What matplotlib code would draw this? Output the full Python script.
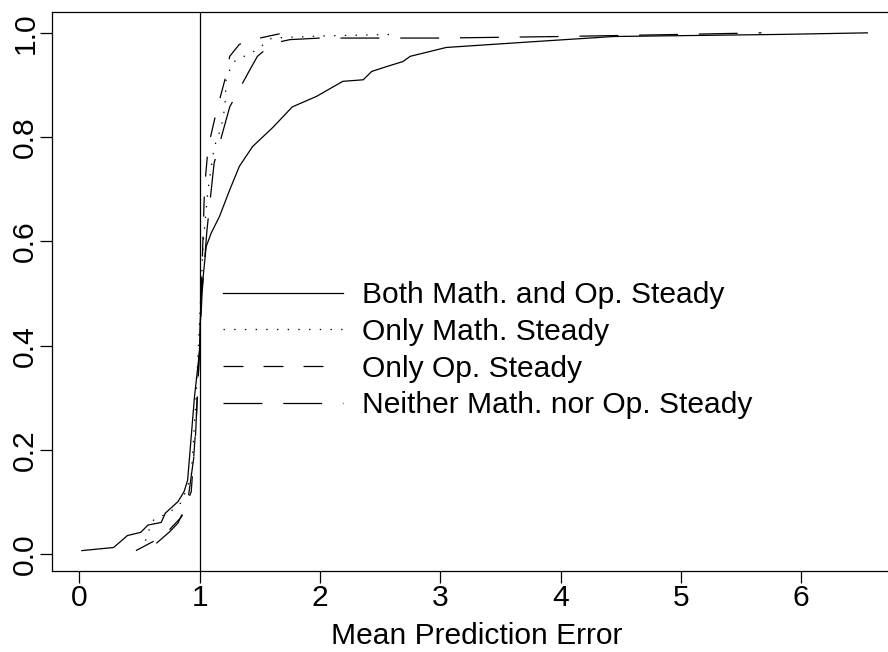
import numpy as np
import matplotlib
matplotlib.use("Agg")
import matplotlib.pyplot as plt

# ECDF curves (x = mean prediction error, y = cumulative fraction)
both_x = [0.02, 0.285, 0.40, 0.51, 0.57, 0.68, 0.715, 0.82, 0.87, 0.90, 0.957, 1.0, 1.01,
          1.054, 1.096, 1.165, 1.25, 1.33, 1.44, 1.61, 1.77, 1.97, 2.19, 2.36, 2.43, 2.55,
          2.69, 2.75, 3.05, 3.77, 4.44, 5.82, 6.55]
both_y = [0.007, 0.013, 0.036, 0.042, 0.056, 0.061, 0.079, 0.101, 0.12, 0.142, 0.302, 0.392,
          0.488, 0.59, 0.616, 0.648, 0.699, 0.744, 0.782, 0.819, 0.858, 0.878, 0.907, 0.91,
          0.926, 0.935, 0.945, 0.955, 0.972, 0.983, 0.993, 0.997, 1.0]

math_x = [0.55, 0.58, 0.62, 0.75, 0.85, 0.93, 0.97, 1.0, 1.03, 1.07, 1.12, 1.18, 1.21, 1.22,
          1.26, 1.30, 1.40, 1.47, 1.6, 2.0, 2.62]
math_y = [0.026, 0.047, 0.067, 0.08, 0.10, 0.15, 0.30, 0.45, 0.60, 0.70, 0.78, 0.82, 0.858,
          0.91, 0.935, 0.948, 0.958, 0.967, 0.99, 0.994, 0.997]

op_x = [0.47, 0.70, 0.85, 0.93, 0.97, 1.0, 1.02, 1.04, 1.07, 1.14, 1.21, 1.25, 1.33, 1.5, 1.7]
op_y = [0.007, 0.035, 0.072, 0.12, 0.25, 0.40, 0.55, 0.70, 0.78, 0.85, 0.91, 0.955, 0.978,
        0.99, 1.0]

neither_x = [0.64, 0.75, 0.82, 0.90, 0.96, 0.99, 1.02, 1.06, 1.12, 1.25, 1.40, 1.48, 1.61,
             1.75, 2.0, 3.0, 4.0, 5.0, 5.67]
neither_y = [0.021, 0.043, 0.06, 0.10, 0.20, 0.35, 0.50, 0.62, 0.75, 0.858, 0.922, 0.955,
             0.98, 0.987, 0.99, 0.99, 0.993, 0.997, 1.0]

labels = ["Both Math. and Op. Steady", "Only Math. Steady", "Only Op. Steady",
          "Neither Math. nor Op. Steady"]

plt.rcParams['font.family'] = ['Liberation Sans', 'DejaVu Sans']
plt.rcParams['font.size'] = 21.6
plt.rcParams['lines.scale_dashes'] = False

fig = plt.figure(figsize=(8.88, 6.52), dpi=100)
ax = fig.add_axes([0.0582, 0.1247, 0.9565, 0.8569])

lw = 0.9
ax.plot(both_x, both_y, color='black', lw=lw, ls='-', label=labels[0])
ax.plot(math_x, math_y, color='black', lw=lw, ls=(0, (1, 6.7)), label=labels[1])
ax.plot(op_x, op_y, color='black', lw=lw, ls=(0, (14.4, 14.4)), label=labels[2])
ax.plot(neither_x, neither_y, color='black', lw=lw, ls=(0, (28, 15)), label=labels[3])
ax.axvline(1, color='black', lw=lw)

ax.set_xlim(-0.23, 6.83)
ax.set_ylim(-0.0315, 1.040)
ax.set_xticks(range(7))
ax.set_yticks([0.0, 0.2, 0.4, 0.6, 0.8, 1.0])
ax.set_yticklabels(['0.0', '0.2', '0.4', '0.6', '0.8', '1.0'])
ax.tick_params(direction='out', length=8.4, width=0.9, color='black')
ax.tick_params(axis='x', pad=1.2)
ax.tick_params(axis='y', pad=0.5)
plt.setp(ax.get_yticklabels(), rotation=90, va='center')
for s in ax.spines.values():
    s.set_linewidth(0.9)

ax.set_xlabel('Mean Prediction Error', labelpad=7)

ax.legend(loc='upper left', bbox_to_anchor=(0.2017, 0.518), frameon=False,
          handlelength=4.0, handletextpad=0.65, labelspacing=0.29, borderpad=0,
          borderaxespad=0)

fig.savefig('out.png', dpi=100)
